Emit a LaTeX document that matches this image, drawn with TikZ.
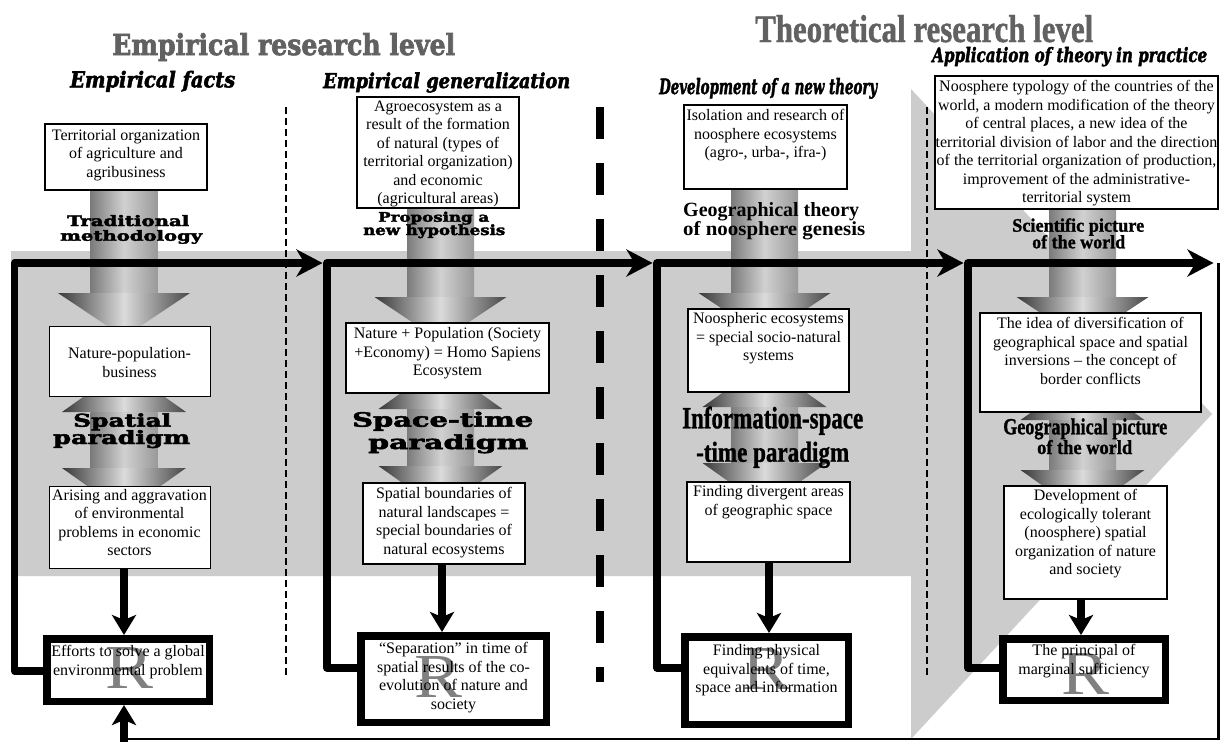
\documentclass[tikz,border=0pt]{standalone}
\usepackage{graphicx}
\usepackage{fontspec}
\setmainfont{Liberation Serif}
\newfontfamily\hvy{DejaVu Serif Bold}[FakeBold=2.5]
\newfontfamily\hvyit{DejaVu Serif Bold Italic}[FakeBold=2.5]
\newfontfamily\tmb{Liberation Serif Bold}[FakeBold=1.2]
\usetikzlibrary{arrows.meta}
\newcommand\fl[3]{\resizebox{#1pt}{#2pt}{#3}}
\newcommand\bx[4]{\parbox[c][#2pt][t]{#1pt}{\centering\vspace*{#3pt}#4\par}}
\newcommand\vshaft[3]{\shade[shaftsh] (#1-33.5,#2) rectangle (#1+33.5,#3);}
\newcommand\dnhead[2]{\shade[headsh] (#1-66,#2) -- (#1+66,#2) -- (#1,#2+44) -- cycle;}
\newcommand\dbarrow[3]{%
  \shade[headsh] (#1-62,#2) -- (#1+62,#2) -- (#1,#2-44) -- cycle;
  \shade[shaftsh] (#1-33.5,#2) rectangle (#1+33.5,#3);
  \shade[headsh] (#1-62,#3) -- (#1+62,#3) -- (#1,#3+44) -- cycle;}
\tikzset{
  shaftsh/.style={left color=black!52, right color=black!40, middle color=black!18},
  headsh/.style={left color=black!78, right color=black!72, middle color=black!14},
  bandc/.style={fill=black!20},
  tbox/.style={draw=black, line width=2pt, fill=white, inner sep=0pt, font=\fontsize{16}{18.5}\selectfont},
  tboxl/.style={tbox, line width=1pt},
  rbox/.style={tbox, line width=7.5pt},
  rmark/.style={path picture={\node[inner sep=0pt, text=black!50] at ([#1]path picture bounding box.center) {\fl{48}{41}{R}};}},
  flow/.style={line width=7.5pt, line join=round},
  loopline/.style={line width=2.5pt},
  thindash/.style={line width=2pt, dash pattern=on 7pt off 4pt},
  thickdash/.style={line width=8pt, dash pattern=on 32pt off 24pt},
  bigtip/.tip={Stealth[length=26pt,width=27pt,inset=8pt]},
  dtip/.tip={Stealth[length=20pt,width=24pt,inset=5pt]},
  lbl/.style={anchor=base west, inner sep=0pt},
  ttl/.style={lbl, text=black!62},
}
\begin{document}
\begin{tikzpicture}[x=1pt,y=-1pt]
\useasboundingbox (0,0) rectangle (1220,742);
\fill[white] (0,0) rectangle (1220,742);
% big gray arrow
\fill[bandc] (11,251) -- (911,251) -- (911,89) -- (1212,414) -- (911,739) -- (911,576) -- (11,576) -- cycle;
% separators
\draw[thindash] (285.5,107) -- (285.5,675);
\draw[thickdash] (599.5,107) -- (599.5,682);
\draw[thindash] (927,107) -- (927,675);
% gray shafts
\vshaft{124}{190}{293}\dnhead{124}{293}
\dbarrow{124}{412}{468}
\vshaft{440.5}{208}{297}\dnhead{440.5}{297}
\dbarrow{440.5}{409}{466}
\vshaft{764.5}{189}{293}\dnhead{764.5}{293}
\dbarrow{764.5}{407}{463}
\vshaft{1082.5}{209}{297}\dnhead{1082.5}{297}
\dbarrow{1082.5}{420}{470}
% column 1
\node[tbox] (A1) at (126,157) {\bx{162}{66}{5.1}{Territorial organization\\of agriculture and\\agribusiness}};
\node[tboxl] (B1) at (129.5,361) {\bx{161}{70}{21.6}{Nature-population-\\business}};
\node[tboxl] (C1) at (129.5,527) {\bx{161}{82}{3.1}{Arising and aggravation\\of environmental\\problems in economic\\sectors}};
\node[rbox, rmark={xshift=1.5pt,yshift=2.5pt}] (R1) at (128,670) {\bx{162.5}{62.5}{6.85}{Efforts to solve a global\\environmental problem}};
% column 2
\node[tbox] (A2) at (438,152.5) {\bx{162}{111}{3.6}{Agroecosystem as a\\result of the formation\\of natural (types of\\territorial organization)\\and economic\\(agricultural areas)}};
\node[tbox, line width=2.5pt] (B2) at (447.5,358) {\bx{203}{70}{4.6}{Nature + Population (Society\\+Economy) = Homo Sapiens\\Ecosystem}};
\node[tbox] (C2) at (444,523.5) {\bx{162}{81}{4.6}{Spatial boundaries of\\natural landscapes =\\special boundaries of\\natural ecosystems}};
\node[rbox, rmark={xshift=-15pt,yshift=2pt}] (R2) at (453.5,679) {\bx{185.5}{86.5}{6.85}{“Separation” in time of\\spatial results of the co-\\evolution of nature and\\society}};
% column 3
\node[tbox] (A3) at (765.5,147) {\bx{163}{84}{4.3}{Isolation and research of\\noosphere ecosystems\\(agro-, urba-, ifra-)}};
\node[tbox] (B3) at (768.5,350.5) {\bx{161}{83}{3.6}{Noospheric ecosystems\\= special socio-natural\\systems}};
\node[tbox] (C3) at (768.5,522) {\bx{163}{80}{3.6}{Finding divergent areas\\of geographic space}};
\node[rbox, rmark={yshift=12pt}] (R3) at (766.5,680.5) {\bx{163.5}{87.5}{7.85}{Finding physical\\equivalents of time,\\space and information}};
% column 4
\node[tbox] (A4) at (1076.5,142.5) {\bx{283}{133}{4.6}{Noosphere typology of the countries of the\\world, a modern modification of the theory\\of central places, a new idea of the\\territorial division of labor and the direction\\of the territorial organization of production,\\improvement of the administrative-\\territorial system}};
\node[tbox] (B4) at (1090.5,362.5) {\bx{221}{99}{4.6}{The idea of diversification of\\geographical space and spatial\\inversions -- the concept of\\border conflicts}};
\node[tbox] (C4) at (1085.5,542.5) {\bx{163}{113}{3.6}{Development of\\ecologically tolerant\\(noosphere) spatial\\organization of nature\\and society}};
\node[rbox, rmark={xshift=1.5pt,yshift=-4pt}] (R4) at (1084,669.5) {\bx{162.5}{61.5}{5.85}{The principal of\\marginal sufficiency}};
% titles
\node[ttl] (tE) at (112,55) {\fl{343}{22}{\hvy Empirical research level}};
\node[ttl] (tT) at (755,42) {\fl{338}{27}{\tmb Theoretical research level}};
\node[lbl] (sEF) at (70,87.3) {\fl{165}{16.5}{\hvyit Empirical facts}};
\node[lbl] (sEG) at (323,88) {\fl{247}{15.5}{\hvyit Empirical generalization}};
\node[lbl] (sDT) at (659,94) {\fl{218}{16}{\hvyit Development of a new theory}};
\node[lbl] (sAT) at (932,62) {\fl{275}{15}{\hvyit Application of theory in practice}};
% shaft labels
\node[lbl] (l1a) at (67,226) {\fl{122}{11}{\hvy Traditional}};
\node[lbl] (l1b) at (60,240.7) {\fl{142}{10.7}{\hvy methodology}};
\node[lbl] (l2a) at (378,221.7) {\fl{111}{10}{\hvy Proposing a}};
\node[lbl] (l2b) at (363,235) {\fl{142}{10.7}{\hvy new hypothesis}};
\node[lbl] (l3a) at (683,216.7) {\fl{176}{14}{\bfseries Geographical theory}};
\node[lbl] (l3b) at (683,235) {\fl{182}{14}{\bfseries of noosphere genesis}};
\node[lbl] (l4a) at (1012,231.7) {\fl{132}{13.4}{\tmb Scientific picture}};
\node[lbl] (l4b) at (1032,248.3) {\fl{93}{13.3}{\tmb of the world}};
\node[lbl] (m1a) at (73,426.7) {\fl{98}{13.4}{\hvy Spatial}};
\node[lbl] (m1b) at (53,444) {\fl{137}{14}{\hvy paradigm}};
\node[lbl] (m2a) at (352,426.7) {\fl{181}{15}{\hvy Space-time}};
\node[lbl] (m2b) at (368,449) {\fl{160}{14.7}{\hvy paradigm}};
\node[lbl] (m3a) at (682,428.3) {\fl{181}{21.7}{\tmb Information-space}};
\node[lbl] (m3b) at (696,461.7) {\fl{153}{20}{\tmb -time paradigm}};
\node[lbl] (m4a) at (1003,434.3) {\fl{164}{16}{\tmb Geographical picture}};
\node[lbl] (m4b) at (1037,454) {\fl{95}{14}{\tmb of the world}};
% flow coordinates
\coordinate (k1) at (14.5,263);
\coordinate (k2) at (327,263);
\coordinate (k3) at (657,263);
\coordinate (k4) at (968,263);
\coordinate (k5) at (1218.5,263);
\coordinate (k6) at (1218.5,739);
\coordinate (k7) at (124,739);
\coordinate (k8) at (124,742);
\coordinate (b1) at (14.5,671);
\coordinate (b2) at (327,668);
\coordinate (b3) at (657,668);
\coordinate (b4) at (968,668);
\coordinate (x2) at (442,0);
\coordinate (x3) at (769,0);
\coordinate (x4) at (1081,0);
% brackets and arrows
\draw[flow, -{bigtip}, shorten >=4.5pt] (R1.west |- b1) -- (b1) -- (k1) -- (k2);
\draw[flow, -{bigtip}, shorten >=4.5pt] (R2.west |- b2) -- (b2) -- (k2) -- (k3);
\draw[flow, -{bigtip}, shorten >=4.5pt] (R3.west |- b3) -- (b3) -- (k3) -- (k4);
\draw[flow, -{bigtip}, shorten >=5pt] (R4.west |- b4) -- (b4) -- (k4) -- (k5);
\draw[loopline] (k5) -- (k6) -- (k7);
\draw[line width=8pt, -{dtip}] (k8) -- (k8 |- R1.south);
\draw[line width=8pt, -{dtip}] (C1.south -| k8) -- (R1.north -| k8);
\draw[line width=8pt, -{dtip}] (C2.south -| x2) -- (R2.north -| x2);
\draw[line width=8pt, -{dtip}] (C3.south -| x3) -- (R3.north -| x3);
\draw[line width=8pt, -{dtip}] (C4.south -| x4) -- (R4.north -| x4);
\end{tikzpicture}
\end{document}
